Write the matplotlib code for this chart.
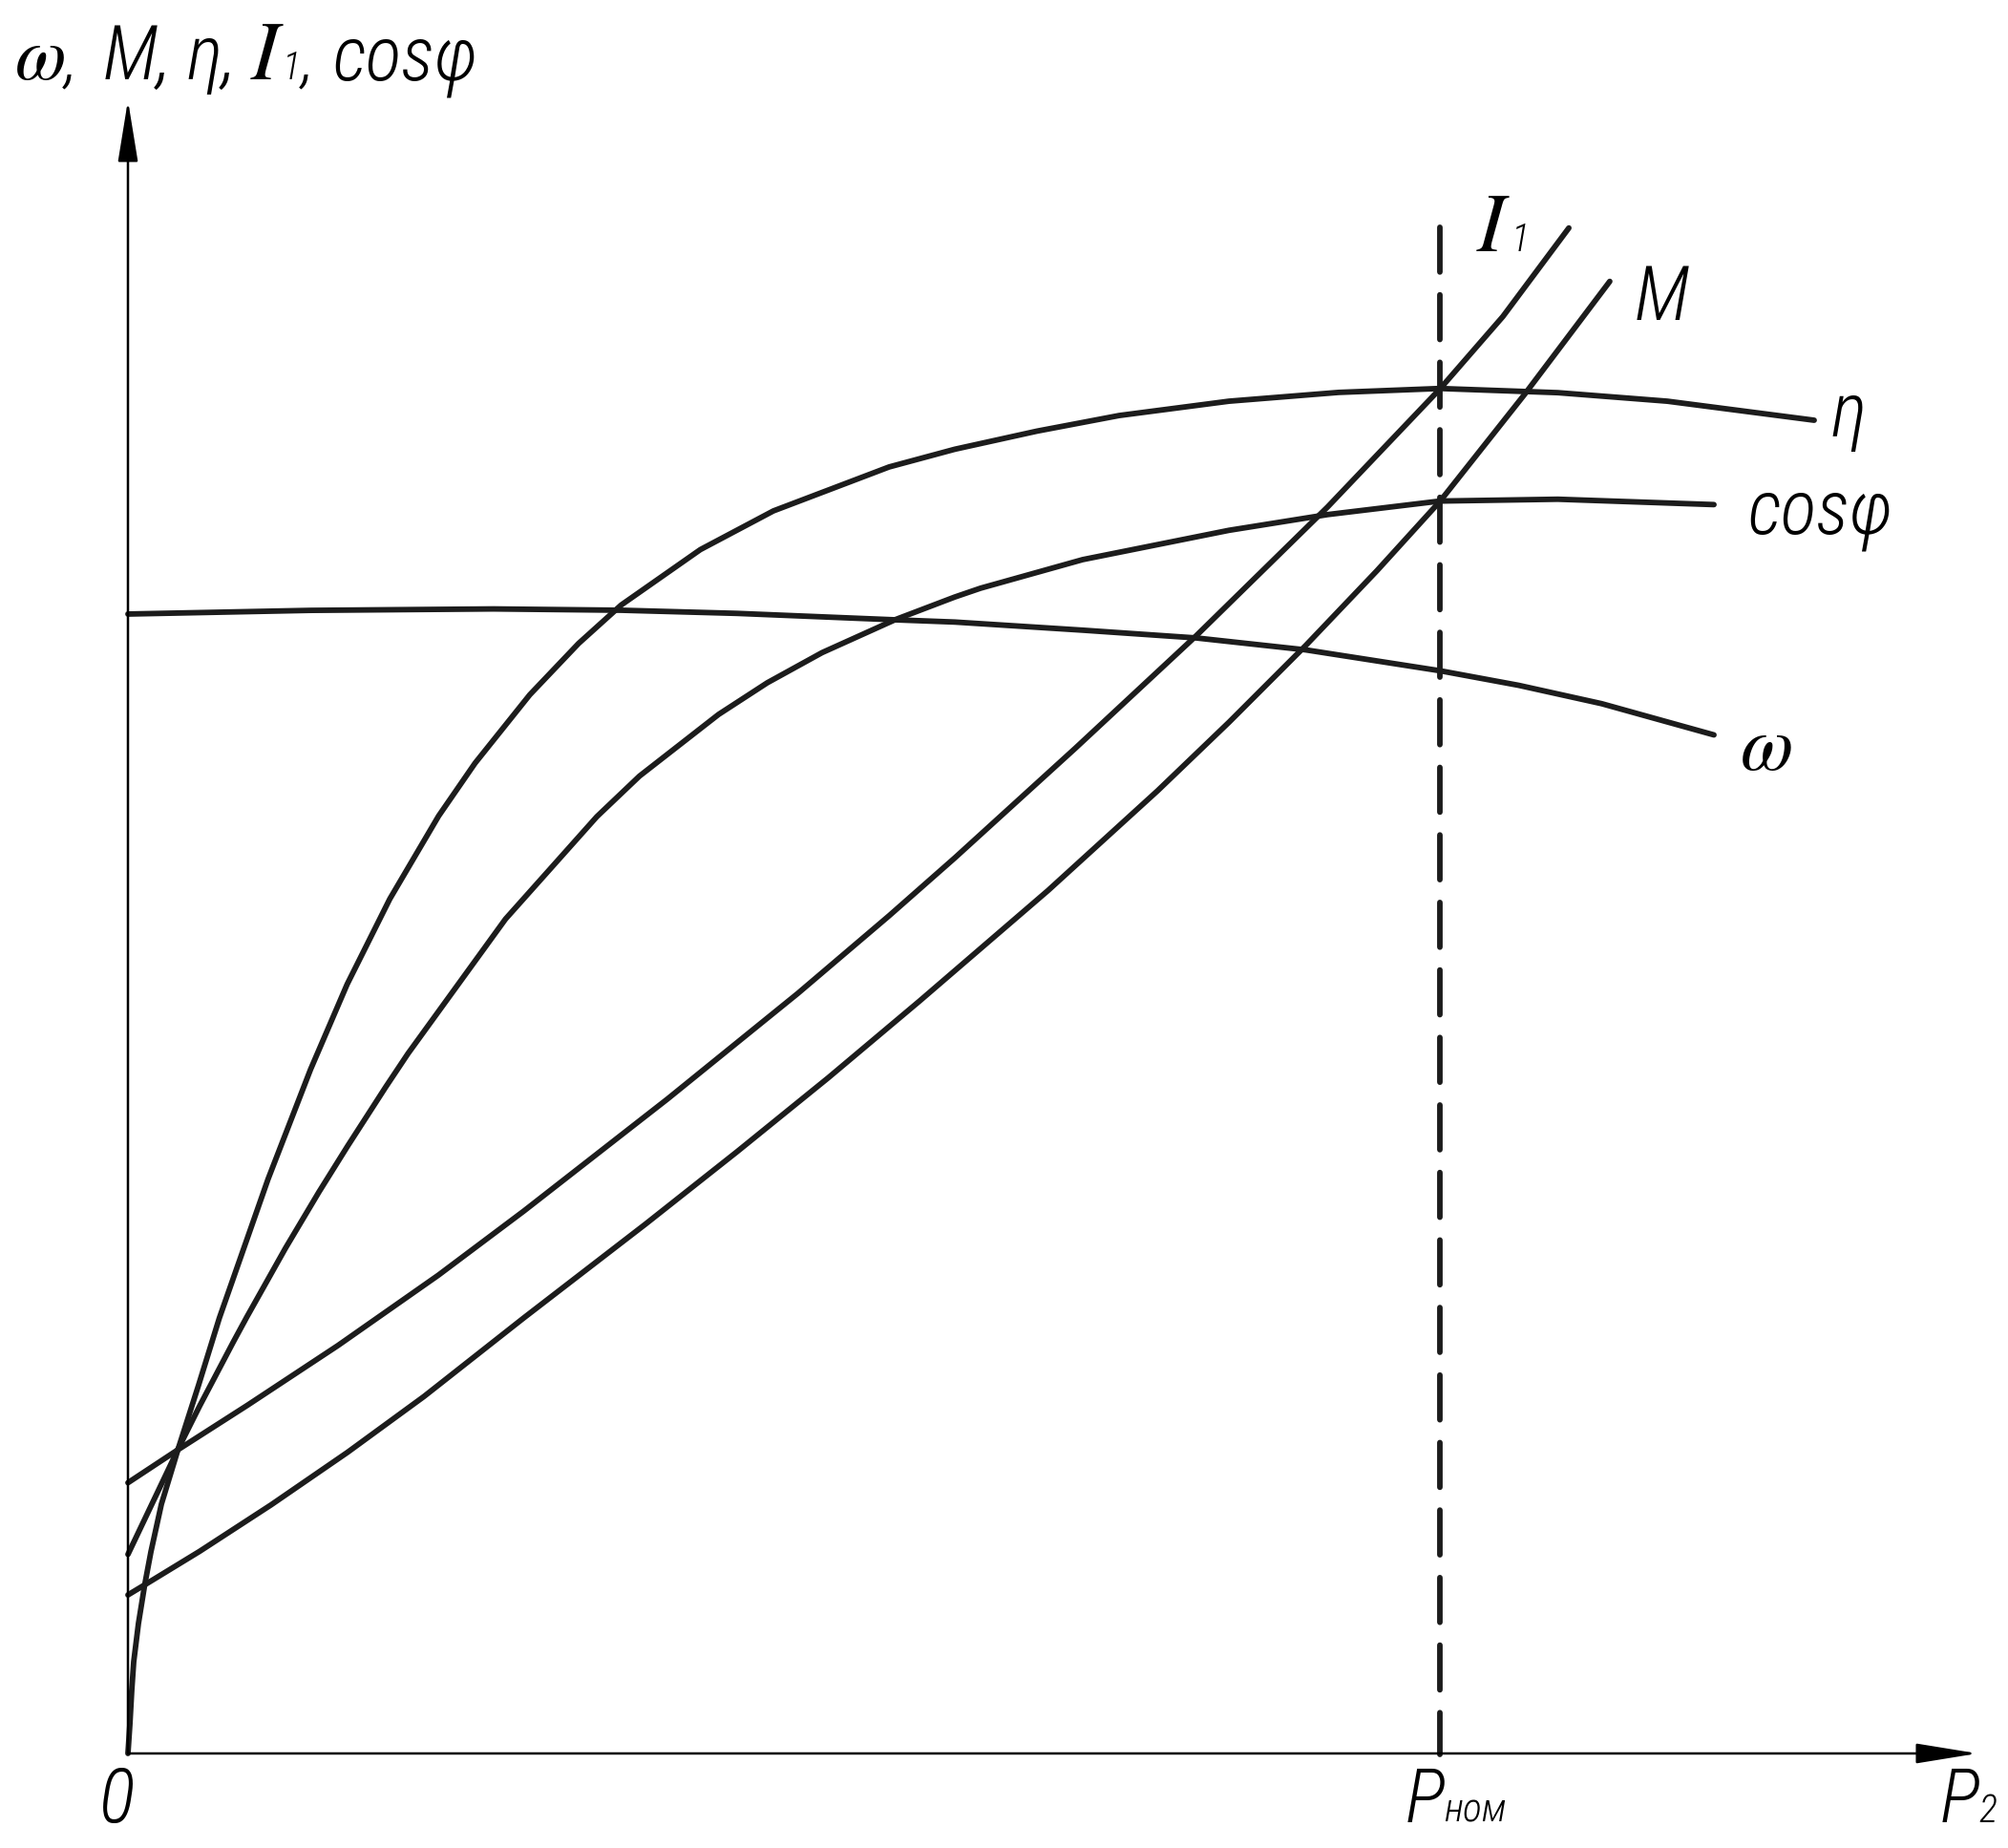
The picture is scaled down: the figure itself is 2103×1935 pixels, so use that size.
import matplotlib
matplotlib.use("Agg")
import matplotlib.pyplot as plt

# P2 in units of P_nom; ordinates in the same drawing units (no scale on the sketch)
omega_x = [0.0, 0.1390, 0.2787, 0.3759, 0.4643, 0.5848, 0.6303, 0.7278, 0.8141, 0.8977,
           1.0, 1.0600, 1.1233, 1.2089]
omega_y = [0.8683, 0.8711, 0.8722, 0.8712, 0.8688, 0.8639, 0.8622, 0.8560, 0.8501, 0.8410,
           0.8251, 0.8140, 0.8000, 0.7762]

eta_x = [0.0, 0.0015, 0.0029, 0.0044, 0.0080, 0.0127, 0.0175, 0.0255, 0.0382, 0.0539,
         0.0697, 0.1068, 0.1392, 0.1671, 0.1996, 0.2368, 0.2646, 0.3063, 0.3435, 0.3760,
         0.4363, 0.4920, 0.5802, 0.6303, 0.6929, 0.7556, 0.8392, 0.9227, 1.0, 1.0899,
         1.1734, 1.2853]
eta_y = [0.0, 0.0226, 0.0480, 0.0699, 0.0990, 0.1281, 0.1536, 0.1900, 0.2318, 0.2809,
         0.3319, 0.4377, 0.5213, 0.5862, 0.6512, 0.7144, 0.7547, 0.8068, 0.8459, 0.8752,
         0.9174, 0.9469, 0.9804, 0.9939, 1.0077, 1.0196, 1.0305, 1.0372, 1.0402, 1.0370,
         1.0305, 1.0160]

cos_x = [0.0, 0.0291, 0.0382, 0.0546, 0.0801, 0.0905, 0.1201, 0.1456, 0.1674, 0.1965,
         0.2135, 0.2878, 0.3574, 0.3899, 0.4502, 0.4873, 0.5291, 0.5848, 0.6303, 0.6499,
         0.7278, 0.8392, 0.9144, 1.0, 1.0899, 1.2089]
cos_y = [0.1517, 0.2128, 0.2319, 0.2647, 0.3132, 0.3324, 0.3851, 0.4279, 0.4628, 0.5079,
         0.5334, 0.6359, 0.7139, 0.7448, 0.7918, 0.8159, 0.8389, 0.8640, 0.8813, 0.8880,
         0.9098, 0.9321, 0.9441, 0.9544, 0.9558, 0.9517]

i1_x = [0.0, 0.0382, 0.0910, 0.1601, 0.2365, 0.3017, 0.4112, 0.5106, 0.5802, 0.6303,
        0.7222, 0.8141, 0.9144, 1.0, 1.0480, 1.0983]
i1_y = [0.2063, 0.2315, 0.2653, 0.3109, 0.3644, 0.4133, 0.4987, 0.5792, 0.6384, 0.6825,
        0.7661, 0.8516, 0.9499, 1.0398, 1.0950, 1.1625]

m_x = [0.0, 0.0146, 0.0546, 0.1092, 0.1674, 0.2256, 0.3017, 0.3945, 0.4642, 0.5338,
       0.6034, 0.7013, 0.7849, 0.8392, 0.8977, 0.9520, 1.0, 1.0648, 1.1295]
m_y = [0.1208, 0.1296, 0.1540, 0.1895, 0.2295, 0.2720, 0.3319, 0.4034, 0.4585, 0.5149,
       0.5734, 0.6576, 0.7337, 0.7858, 0.8443, 0.9013, 0.9541, 1.0360, 1.1218]

p_nom = 1.0
dash_top = 1.1630
dash_bottom = -0.0007
y_arrow_top = 1.2598
x_arrow_end = 1.4098

W, H = 2103, 1935
UNIT = 1374.0       # pixels per unit in the output
X0, Y0 = 134, 1836  # origin in output pixels

plt.rcParams["lines.scale_dashes"] = False
plt.rcParams["mathtext.fontset"] = "stix"

fig = plt.figure(figsize=(W / 100, H / 100), dpi=100)
ax = fig.add_axes([0, 0, 1, 1])
ax.set_xlim(-X0 / UNIT, (W - X0) / UNIT)
ax.set_ylim(-(H - Y0) / UNIT, Y0 / UNIT)
ax.axis("off")

ink = "#1c1c1c"
lw = 4.2
for xs, ys in [(omega_x, omega_y), (eta_x, eta_y), (cos_x, cos_y), (i1_x, i1_y), (m_x, m_y)]:
    ax.plot(xs, ys, color=ink, lw=lw, solid_capstyle="round", solid_joinstyle="round")

# P_nom marker line, drawn top-down so both ends land on a dash
ax.plot([p_nom, p_nom], [dash_top, dash_bottom], color=ink, lw=lw,
        dashes=(33.7, 17.2), dash_capstyle="round")

# coordinate axes with arrows
arrow = dict(arrowstyle="-|>,head_length=4.0,head_width=0.65", color="black",
             lw=1.8, shrinkA=0, shrinkB=0)
ax.annotate("", xy=(0, y_arrow_top), xytext=(0, 0), arrowprops=arrow)
ax.annotate("", xy=(x_arrow_end, 0), xytext=(0, 0), arrowprops=arrow)

sans = dict(family=["Liberation Sans Narrow", "DejaVu Sans Condensed", "Roboto Condensed",
                    "Open Sans Condensed", "DejaVu Sans"],
            style="italic", stretch="condensed", weight="light", color="black")
serif = dict(color="black")  # Times-like italic via stix mathtext


def txt(x, y, s, size, font):
    ax.text(x, y, s, fontsize=size, ha="left", va="baseline", **font)


# y-axis title
ty = 1.2758
txt(-0.0866, ty, r"$\omega$", 56, serif)
txt(-0.0480, ty, ",", 50, sans)
txt(-0.0189, ty, "M,", 57, sans)
txt(0.0444, ty, "η,", 57, sans)
txt(0.0932, ty, r"$I$", 63, serif)
txt(0.1180, ty, "1", 29, sans)
txt(0.1325, ty, ",", 50, sans)
txt(0.1558, ty, "cosφ", 57, sans)

# curve labels
txt(1.0277, 1.1448, r"$I$", 63, serif)
txt(1.0546, 1.1448, "1", 29, sans)
txt(1.1485, 1.0924, "M", 57, sans)
txt(1.2977, 1.0036, "η", 57, sans)
txt(1.235, 0.9301, "cosφ", 57, sans)
txt(1.2285, 0.7496, r"$\omega$", 58, serif)

# x-axis labels
txt(-0.0226, -0.0524, "0", 57, sans)
txt(0.9738, -0.0524, "P", 57, sans)
txt(1.0030, -0.0524, "ном", 30, sans)
txt(1.3814, -0.0524, "P", 57, sans)
txt(1.4105, -0.0524, "2", 29, sans)

fig.savefig("out.png", dpi=100, facecolor="white")
